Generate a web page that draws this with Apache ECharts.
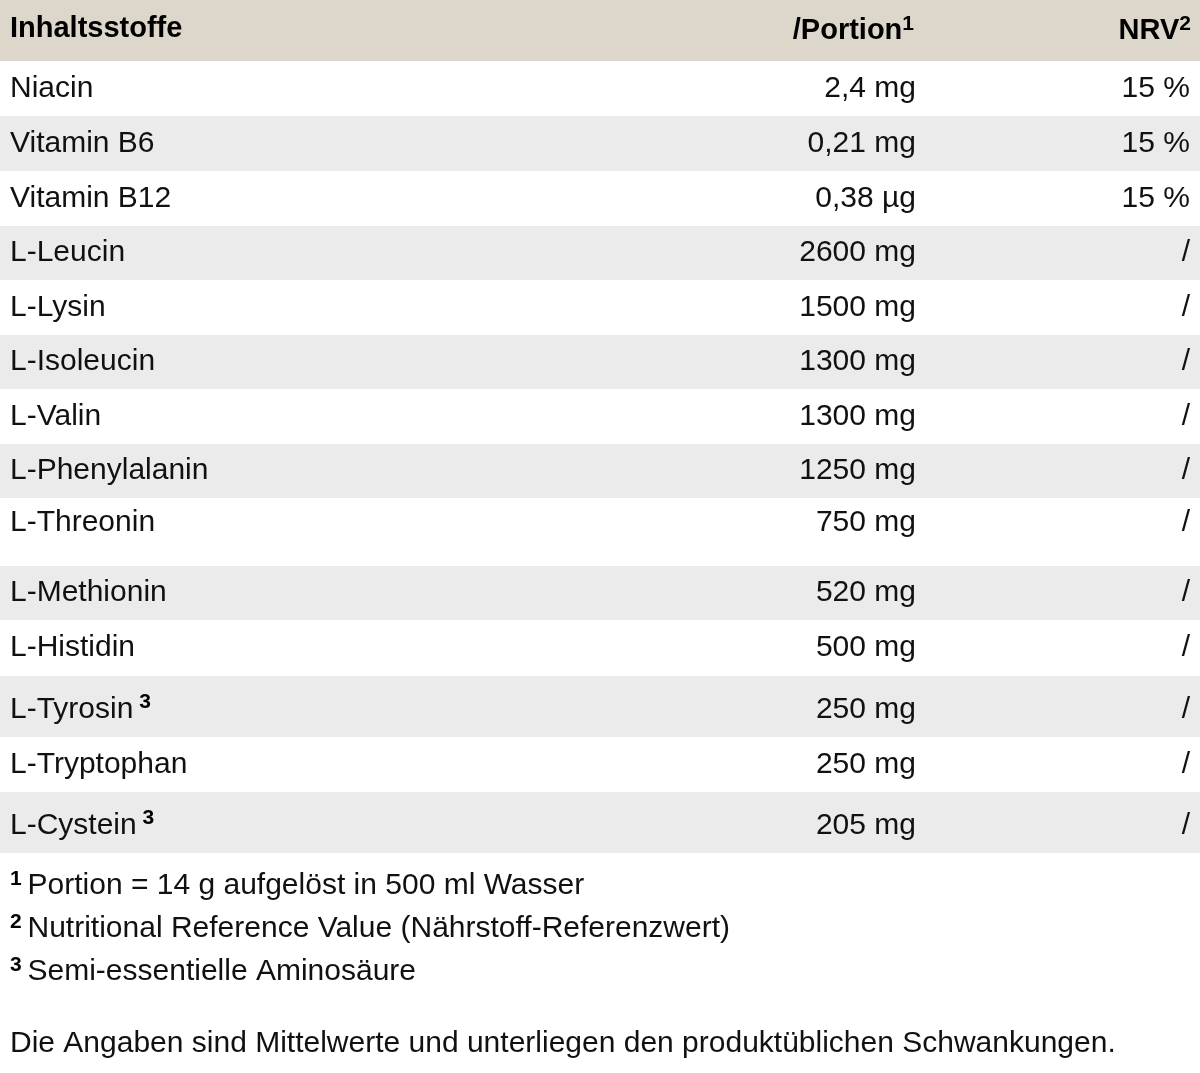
<!DOCTYPE html><html><head><meta charset="utf-8"><script src="https://cdn.jsdelivr.net/npm/echarts@6/dist/echarts.min.js"></script>
<style>html,body{margin:0;padding:0;background:#fff}#c{width:1200px;height:1073px}</style></head><body><div id="c"></div><script>
const names=["Niacin","Vitamin B6","Vitamin B12","L-Leucin","L-Lysin","L-Isoleucin","L-Valin","L-Phenylalanin","L-Threonin","L-Methionin","L-Histidin","L-Tyrosin","L-Tryptophan","L-Cystein"];
const nameSup=["","","","","","","","","","","","3","","3"];
const portions=["2,4 mg","0,21 mg","0,38 µg","2600 mg","1500 mg","1300 mg","1300 mg","1250 mg","750 mg","520 mg","500 mg","250 mg","250 mg","205 mg"];
const nrv=["15 %","15 %","15 %","/","/","/","/","/","/","/","/","/","/","/"];
const headers=["Inhaltsstoffe","/Portion","NRV"];
const headerSup=["","1","2"];
const footnotes=[["1","Portion = 14 g aufgelöst in 500 ml Wasser"],["2","Nutritional Reference Value (Nährstoff-Referenzwert)"],["3","Semi-essentielle Aminosäure"]];
const disclaimer="Die Angaben sind Mittelwerte und unterliegen den produktüblichen Schwankungen.";
// layout
const bounds=[0,61,116,171,226,280,335,389,444,498,566,620,676,737,792,853];
const F='"Liberation Sans", Arial, sans-serif';
const g=[];
const rich={m:{fontFamily:F,fontSize:30,fill:'#111',color:'#111'},b:{fontFamily:F,fontSize:29,fontWeight:'bold',color:'#111'},s:{fontFamily:F,fontSize:21,fontWeight:'bold',color:'#111',verticalAlign:'top',padding:[0,0,14,0]}};
const txt=(x,y,s,o)=>g.push({type:'text',x,y,style:Object.assign({text:s,rich,textVerticalAlign:'middle'},o||{})});
g.push({type:'rect',shape:{x:0,y:0,width:1200,height:61},style:{fill:'#ddd6cb'}});
for(let i=0;i<names.length;i++){
  const y0=bounds[i+1],y1=bounds[i+2];
  const gray=i%2===1;
  if(gray) g.push({type:'rect',shape:{x:0,y:y0,width:1200,height:y1-y0},style:{fill:'#ebebeb'}});
  const ym=(i===8)?y0+25:(y0+y1)/2+(nameSup[i]?3:0);
  txt(10,ym,'{m|'+names[i]+'}'+(nameSup[i]?'{s| '+nameSup[i]+'}':''));
  txt(916,ym,'{m|'+portions[i]+'}',{textAlign:'right'});
  txt(1190,ym,'{m|'+nrv[i]+'}',{textAlign:'right'});
}
txt(10,29,'{b|'+headers[0]+'}');
txt(914,31,'{b|'+headers[1]+'}{s|'+headerSup[1]+'}',{textAlign:'right'});
txt(1191,31,'{b|'+headers[2]+'}{s|'+headerSup[2]+'}',{textAlign:'right'});
footnotes.forEach((f,i)=>{const y=886+i*43; txt(10,y,'{s|'+f[0]+' }{m|'+f[1]+'}');});
txt(10,1044,'{m|'+disclaimer+'}');
const ch=echarts.init(document.getElementById('c'));
ch.setOption({animation:false,graphic:g});
</script></body></html>
